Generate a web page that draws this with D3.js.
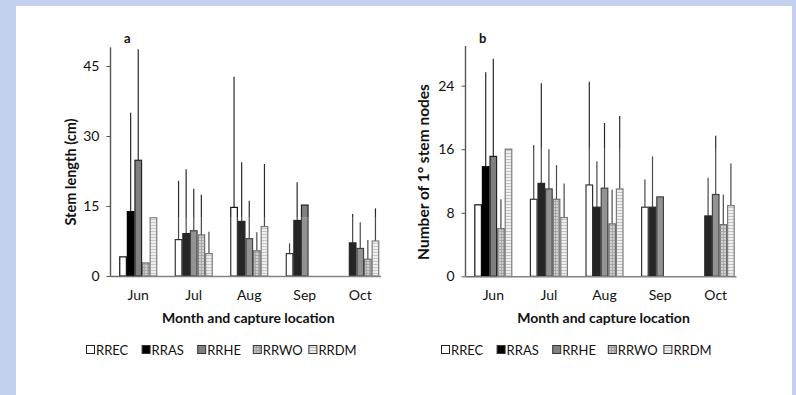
<!DOCTYPE html>
<html>
<head>
<meta charset="utf-8">
<script src="https://cdn.jsdelivr.net/npm/d3@7/dist/d3.min.js"></script>
<style>
  html, body { margin: 0; padding: 0; background: #c3d1ee; }
  svg { display: block; }
  text { font-family: Lato, "Open Sans", "Liberation Sans", sans-serif; fill: #111; }
</style>
</head>
<body>
<svg id="fig" width="796" height="395"></svg>
<script>
// Months sampled and capture locations
const months = ["Jun", "Jul", "Aug", "Sep", "Oct"];
const sites = ["RREC", "RRAS", "RRHE", "RRWO", "RRDM"];

// Panel a: stem length (cm), means and SD per location
const lenRREC = [4.1, 7.8, 14.7, 4.8, 0];
const lenRRAS = [13.8, 9.1, 11.7, 11.9, 7.1];
const lenRRHE = [24.8, 9.7, 8.0, 15.2, 5.9];
const lenRRWO = [2.8, 8.8, 5.4, 0, 3.6];
const lenRRDM = [12.5, 4.8, 10.6, 0, 7.5];
const lenSdRREC = [0, 12.6, 28.0, 2.2, 0];
const lenSdRRAS = [21.2, 13.8, 12.7, 8.2, 6.2];
const lenSdRRHE = [23.8, 9.0, 8.1, 0, 5.6];
const lenSdRRWO = [0, 8.6, 4.0, 0, 4.1];
const lenSdRRDM = [0, 4.7, 13.4, 0, 7.0];
const lenTicks = [0, 15, 30, 45];

// Panel b: number of primary stem nodes, means and SD per location
const nodRREC = [9.0, 9.7, 11.5, 8.7, 0];
const nodRRAS = [13.8, 11.7, 8.7, 8.7, 7.6];
const nodRRHE = [15.1, 11.0, 11.1, 10.0, 10.3];
const nodRRWO = [6.0, 9.7, 6.6, 0, 6.5];
const nodRRDM = [16.0, 7.4, 11.0, 0, 8.9];
const nodSdRREC = [0, 6.8, 13.0, 3.5, 0];
const nodSdRRAS = [11.9, 12.6, 5.8, 6.4, 4.8];
const nodSdRRHE = [12.3, 5.0, 8.2, 0, 7.4];
const nodSdRRWO = [3.7, 4.3, 4.3, 0, 3.8];
const nodSdRRDM = [0, 4.3, 9.2, 0, 5.3];
const nodTicks = [0, 8, 16, 24];

const svg = d3.select("#fig");

// white sheet on the blue page
svg.append("rect").attr("x", 16).attr("y", 6).attr("width", 776).attr("height", 395).attr("fill", "#fff");

const defs = svg.append("defs");
// RRWO: fine grid texture
const pw = defs.append("pattern").attr("id", "patWO").attr("patternUnits", "userSpaceOnUse")
  .attr("width", 3).attr("height", 3);
pw.append("rect").attr("width", 3).attr("height", 3).attr("fill", "#c9c9c9");
pw.append("rect").attr("width", 3).attr("height", 1).attr("fill", "#9a9a9a");
pw.append("rect").attr("width", 1).attr("height", 3).attr("fill", "#9a9a9a");
// RRDM: light horizontal lines
const pd = defs.append("pattern").attr("id", "patDM").attr("patternUnits", "userSpaceOnUse")
  .attr("width", 3).attr("height", 3);
pd.append("rect").attr("width", 3).attr("height", 3).attr("fill", "#ececec");
pd.append("rect").attr("width", 3).attr("height", 1).attr("fill", "#bdbdbd");
defs.append("filter").attr("id", "soft").attr("x", "-5%").attr("y", "-5%").attr("width", "110%").attr("height", "110%")
  .append("feGaussianBlur").attr("stdDeviation", 0.7);

const style = {
  RREC: { fill: "#ffffff", stroke: "#111" },
  RRAS: { fill: "#000000", stroke: "#000" },
  RRHE: { fill: "#808080", stroke: "#222" },
  RRWO: { fill: "url(#patWO)", stroke: "#555" },
  RRDM: { fill: "url(#patDM)", stroke: "#666" }
};

const tickFont = "Lato, 'Open Sans', sans-serif";

function panel(cfg) {
  const x = d3.scaleBand().domain(months).range(cfg.xRange);
  const groupW = 38;
  const xs = d3.scaleBand().domain(sites).range([0, groupW]);
  const off = (x.bandwidth() - groupW) / 2;
  const y = d3.scaleLinear().domain([0, cfg.ticks[cfg.ticks.length - 1]]).range(cfg.yRange);

  const rows = [];
  sites.forEach((s, si) => {
    months.forEach((m, mi) => {
      rows.push({ site: s, month: m, mean: cfg.means[si][mi], sd: cfg.sds[si][mi] });
    });
  });

  const g = svg.append("g").attr("id", cfg.id);
  // error bars (upper half only)
  g.selectAll("line.err").data(rows.filter(d => d.mean > 0 && d.sd > 0)).join("line")
    .attr("class", "err")
    .attr("x1", d => x(d.month) + off + xs(d.site) + xs.bandwidth() / 2)
    .attr("x2", d => x(d.month) + off + xs(d.site) + xs.bandwidth() / 2)
    .attr("y1", d => y(d.mean)).attr("y2", d => y(d.mean + d.sd))
    .attr("stroke", "#2a2a2a").attr("stroke-width", 1.2);
  // bars
  g.selectAll("rect.bar").data(rows.filter(d => d.mean > 0)).join("rect")
    .attr("class", "bar")
    .attr("x", d => x(d.month) + off + xs(d.site) + 0.5)
    .attr("width", xs.bandwidth() - 1)
    .attr("y", d => y(d.mean))
    .attr("height", d => y(0) - y(d.mean))
    .attr("fill", d => style[d.site].fill)
    .attr("stroke", d => style[d.site].stroke)
    .attr("stroke-width", 1.2);
  // baseline
  g.append("line")
    .attr("x1", cfg.xRange[0]).attr("x2", cfg.xRange[1] - 7)
    .attr("y1", y(0) + 0.5).attr("y2", y(0) + 0.5)
    .attr("stroke", "#6e6e6e").attr("stroke-width", 1.6);

  // softened lower strip, as printed
  const clipId = cfg.id + "Clip";
  defs.append("clipPath").attr("id", clipId).append("rect")
    .attr("x", cfg.patch[0]).attr("y", y(cfg.patchTop))
    .attr("width", cfg.xRange[1] + 4 - cfg.patch[0]).attr("height", y(0) + 4 - y(cfg.patchTop));
  const soft = svg.append("g").attr("clip-path", `url(#${clipId})`);
  soft.append("rect").attr("x", cfg.patch[0]).attr("y", y(cfg.patchTop))
    .attr("width", cfg.xRange[1] + 4 - cfg.patch[0]).attr("height", y(0) + 4 - y(cfg.patchTop)).attr("fill", "#fff");
  soft.append("use").attr("href", "#" + cfg.id).attr("filter", "url(#soft)").attr("opacity", 0.85);

  // y axis
  const top = y(cfg.axisMax);
  const ya = svg.append("g").attr("transform", `translate(${cfg.xRange[0]},0)`)
    .call(d3.axisLeft(y).tickValues(cfg.ticks).tickSize(4).tickPadding(7).tickSizeOuter(0));
  ya.select(".domain").remove();
  ya.append("line").attr("y1", y(0)).attr("y2", top).attr("stroke", "#555").attr("stroke-width", 1.4);
  ya.selectAll(".tick line").attr("stroke", "#555");
  ya.selectAll(".tick text").attr("font-size", 14).attr("fill", "#111").style("font-family", tickFont);

  // x labels
  const xa = svg.append("g").attr("transform", `translate(0,${y(0)})`)
    .call(d3.axisBottom(x).tickSize(0).tickPadding(14));
  xa.select(".domain").remove();
  xa.selectAll(".tick text").attr("font-size", 14).attr("fill", "#111").style("font-family", tickFont);

  // titles
  svg.append("text").attr("x", (cfg.xRange[0] + cfg.xRange[1]) / 2 - 1).attr("y", 323)
    .attr("text-anchor", "middle").attr("font-size", 14).attr("font-weight", "bold")
    .text("Month and capture location");
  svg.append("text").attr("transform", `translate(${cfg.yTitleX},${cfg.yTitleY}) rotate(-90)`)
    .attr("text-anchor", "middle").attr("font-size", cfg.yTitleSize).attr("font-weight", "bold")
    .text(cfg.yTitle);
  svg.append("text").attr("x", cfg.letterX).attr("y", 43).attr("font-size", 13)
    .attr("font-weight", "bold").text(cfg.letter);

  // legend
  const lg = svg.append("g").attr("transform", `translate(${cfg.legendX},350)`);
  sites.forEach((s, i) => {
    const it = lg.append("g").attr("transform", `translate(${i * 55.6},0)`);
    it.append("rect").attr("x", 0.5).attr("y", -4.5).attr("width", 8).attr("height", 8)
      .attr("fill", style[s].fill).attr("stroke", s === "RREC" ? "#222" : "#333").attr("stroke-width", 1);
    it.append("text").attr("x", 10).attr("y", 5).attr("font-size", 13).text(s);
  });
}

panel({
  id: "plotA", letter: "a", letterX: 124,
  xRange: [110.5, 388], yRange: [276, 66], ticks: lenTicks, axisMax: 49,
  means: [lenRREC, lenRRAS, lenRRHE, lenRRWO, lenRRDM],
  sds: [lenSdRREC, lenSdRRAS, lenSdRRHE, lenSdRRWO, lenSdRRDM],
  patch: [142.5], patchTop: 12.6,
  yTitle: "Stem length (cm)", yTitleSize: 14.5, yTitleX: 76, yTitleY: 172, legendX: 86
});

panel({
  id: "plotB", letter: "b", letterX: 479,
  xRange: [465.5, 743.5], yRange: [276.3, 85.7], ticks: nodTicks, axisMax: 29,
  means: [nodRREC, nodRRAS, nodRRHE, nodRRWO, nodRRDM],
  sds: [nodSdRREC, nodSdRRAS, nodSdRRHE, nodSdRRWO, nodSdRRDM],
  patch: [497], patchTop: 16.1,
  yTitle: "Number of 1° stem nodes", yTitleSize: 15.5, yTitleX: 429, yTitleY: 172, legendX: 441
});
</script>
</body>
</html>
